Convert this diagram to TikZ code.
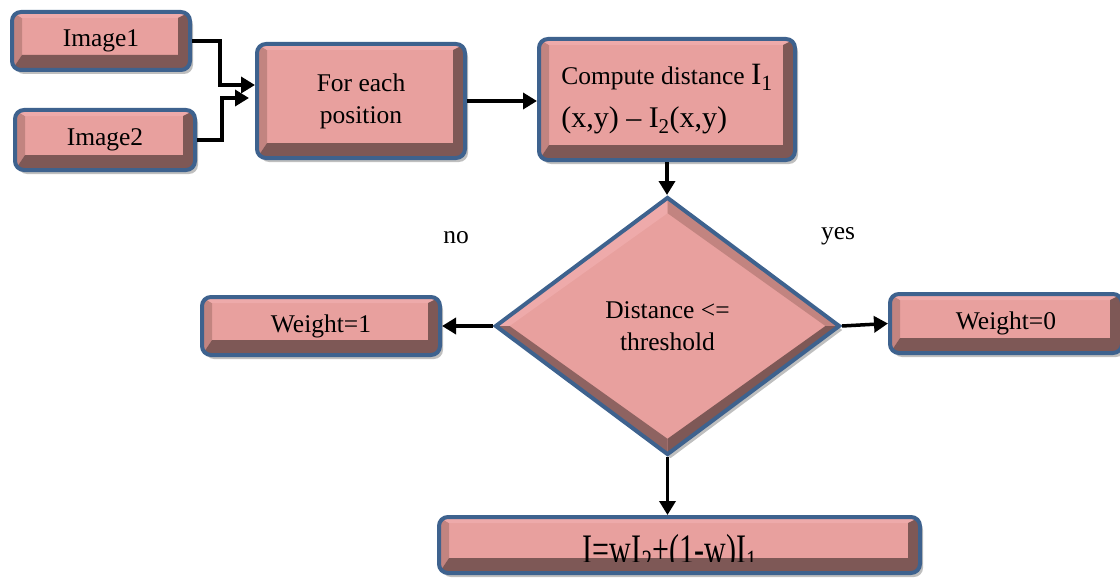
\documentclass[tikz,border=0pt]{standalone}
\usepackage{fontspec}
\setmainfont{Liberation Serif}
\usetikzlibrary{arrows.meta,shapes.geometric,calc,shadows}
\definecolor{face}{RGB}{232,160,158}
\definecolor{bevtop}{RGB}{238,170,170}
\definecolor{bevleft}{RGB}{194,132,128}
\definecolor{bevdark}{RGB}{126,88,86}
\definecolor{edgeblue}{RGB}{62,98,142}
\tikzset{
  txt/.style={font=\fontsize{25.5}{32}\selectfont},
  box/.style={draw=edgeblue, line width=4pt, rounded corners=9pt, fill=face,
    inner sep=0pt, align=center, txt,
    drop shadow={shadow xshift=3pt, shadow yshift=-4pt, opacity=0.25, fill=black},
    path picture={
      \fill[bevleft,sharp corners] (path picture bounding box.south west) -- (path picture bounding box.north west)
        -- ([xshift=10pt,yshift=-6pt]path picture bounding box.north west)
        -- ([xshift=10pt,yshift=15pt]path picture bounding box.south west) -- cycle;
      \fill[bevtop,sharp corners] (path picture bounding box.north west) -- (path picture bounding box.north east)
        -- ([xshift=-12pt,yshift=-6pt]path picture bounding box.north east)
        -- ([xshift=10pt,yshift=-6pt]path picture bounding box.north west) -- cycle;
      \fill[bevdark,sharp corners] (path picture bounding box.north east) -- (path picture bounding box.south east)
        -- (path picture bounding box.south west)
        -- ([xshift=10pt,yshift=15pt]path picture bounding box.south west)
        -- ([xshift=-12pt,yshift=15pt]path picture bounding box.south east)
        -- ([xshift=-12pt,yshift=-6pt]path picture bounding box.north east) -- cycle;
    }},
  dia/.style={diamond, draw=edgeblue, line width=4pt, fill=face, inner sep=0pt, align=center, txt,
    drop shadow={shadow xshift=3pt, shadow yshift=-4pt, opacity=0.25, fill=black},
    path picture={
      \coordinate (pN) at (path picture bounding box.north);
      \coordinate (pS) at (path picture bounding box.south);
      \coordinate (pE) at (path picture bounding box.east);
      \coordinate (pW) at (path picture bounding box.west);
      \coordinate (pC) at (path picture bounding box.center);
      \coordinate (iN) at ($(pC)!0.88!(pN)$);
      \coordinate (iS) at ($(pC)!0.88!(pS)$);
      \coordinate (iE) at ($(pC)!0.92!(pE)$);
      \coordinate (iW) at ($(pC)!0.92!(pW)$);
      \fill[bevtop] (pN) -- (pW) -- (iW) -- (iN) -- cycle;
      \fill[bevleft] (pN) -- (pE) -- (iE) -- (iN) -- cycle;
      \fill[bevdark] (pE) -- (pS) -- (iS) -- (iE) -- cycle;
      \fill[bevdark!85!face] (pS) -- (pW) -- (iW) -- (iS) -- cycle;
    }},
  arr/.style={line width=3.5pt, -{Triangle[length=14pt,width=16pt]}},
}
\begin{document}
\begin{tikzpicture}[x=1pt,y=-1pt]
\clip (0,0) rectangle (1120,578);
\fill[white] (0,0) rectangle (1120,578);

\node[box, minimum width=178pt, minimum height=58pt] (img1) at (101,41) {Image1};
\node[box, minimum width=180pt, minimum height=60pt] (img2) at (105,140) {Image2};
\node[box, minimum width=208pt, minimum height=114pt] (fe) at (361,101) {\rule{0pt}{8pt}For each\\position};
\node[box, minimum width=256pt, minimum height=121pt, align=left] (cd) at (667,99.5)
  {\rule{0pt}{10pt}Compute distance {\fontsize{31}{36}\selectfont I\textsubscript{1}}\\[11pt]
   {\fontsize{30}{36}\selectfont (x,y) -- I\textsubscript{2}(x,y)}};
\node[dia, minimum width=345pt, minimum height=258pt] (d) at (667.5,326) {\rule{0pt}{8pt}Distance \textless=\\threshold};
\node[box, minimum width=238pt, minimum height=58pt] (w1) at (321,326) {Weight=1};
\node[box, minimum width=232pt, minimum height=59pt] (w0) at (1006,323.5) {Weight=0};
\node[box, minimum width=481pt, minimum height=56pt] (res) at (679.5,545) {};
\begin{scope}
  \clip (437,515) rectangle (922,561);
  \node[anchor=base, inner sep=0pt, font=\fontsize{30}{36}\selectfont] (restext) at (670,563)
    {\scalebox{1}[1.4]{I=wI\textsubscript{2}+(1-w)I\textsubscript{1}}};
\end{scope}

\node[txt] (no) at (456,238) {no};
\node[txt] (yes) at (838,236) {yes};

\draw[arr] (img1.east) -- ++(28,0) |- ([yshift=16pt]fe.west);
\draw[arr, shorten >=6pt] (img2.east) -- ++(25,0) |- ([yshift=3pt]fe.west);
\draw[arr] (fe.east) -- (fe.east -| cd.west);
\draw[arr] (cd.south) -- (cd.south |- d.north);
\draw[arr] (d.west) -- (w1.east);
\draw[arr] (d.east) -- (w0.west);
\draw[arr] (d.south) -- (d.south |- res.north);
\end{tikzpicture}
\end{document}
